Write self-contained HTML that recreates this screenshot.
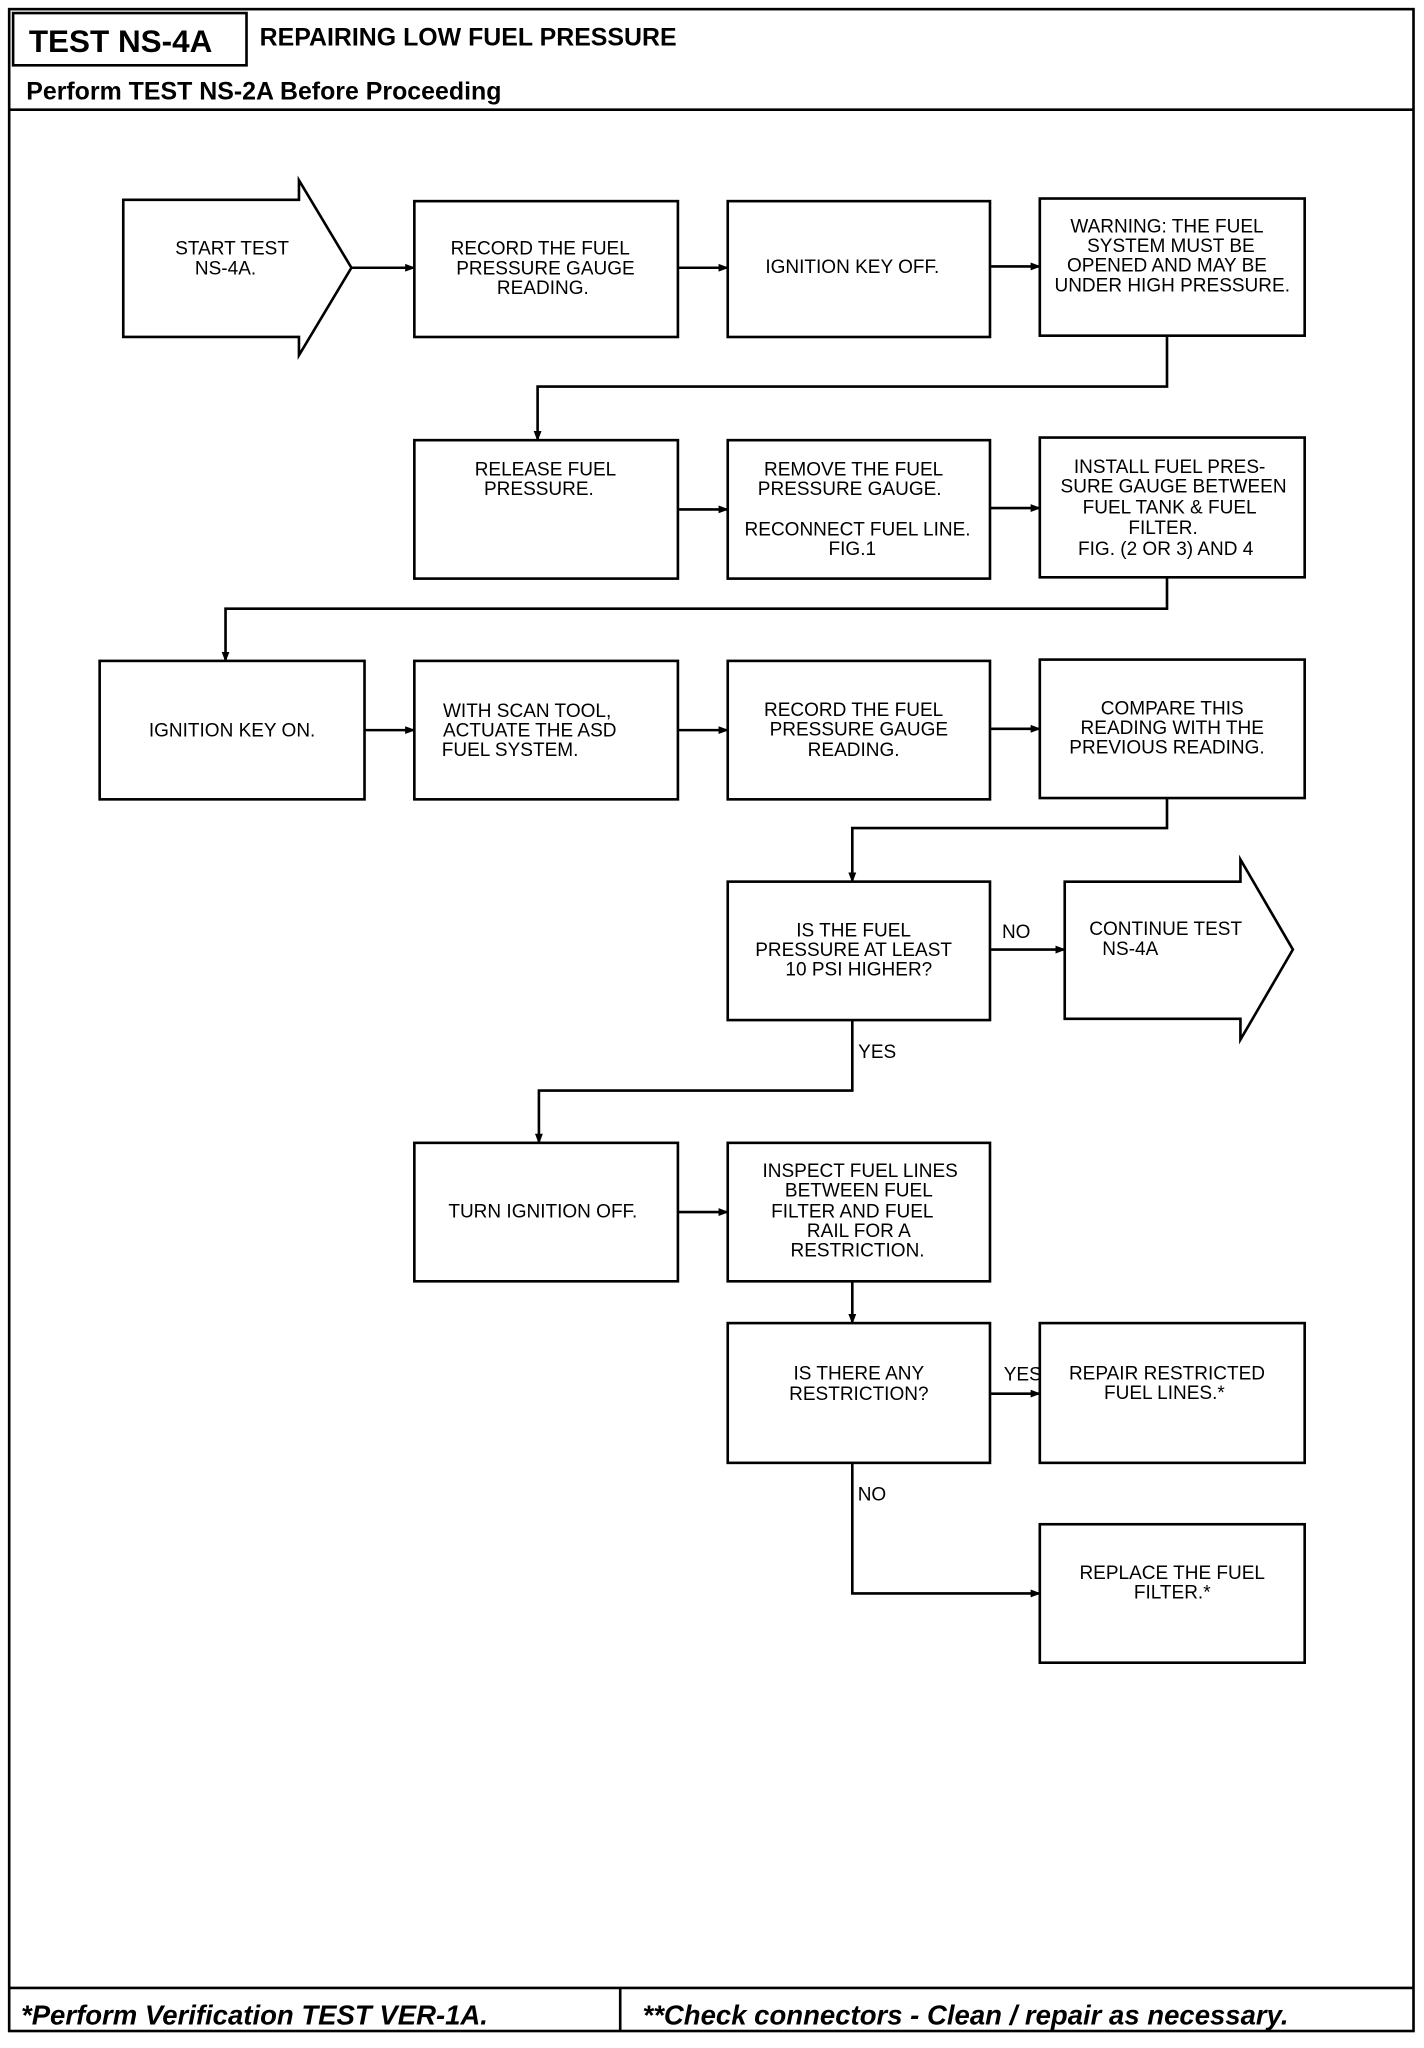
<!DOCTYPE html>
<html><head><meta charset="utf-8"><style>
html,body{margin:0;padding:0;background:#fff}
svg{display:block}
.t{font-family:"Liberation Sans",sans-serif;font-size:14.5px;fill:#000;text-anchor:middle}
.h{font-family:"Liberation Sans",sans-serif;font-weight:bold;fill:#000}
.f{font-family:"Liberation Sans",sans-serif;font-weight:bold;font-style:italic;font-size:21px;fill:#000}
rect,polygon{fill:none;stroke:#000;stroke-width:2}
.c{fill:none;stroke:#000;stroke-width:2}
</style></head><body>
<svg width="1424" height="2048" viewBox="0 0 1086 1568" preserveAspectRatio="none">
<defs><marker id="a" markerWidth="8" markerHeight="8" refX="7" refY="4" orient="auto" markerUnits="userSpaceOnUse"><path d="M0,1 L8,4 L0,7 z" fill="#000"/></marker></defs>
<rect x="7" y="7" width="1071" height="1548" stroke-width="2.5"/>
<line x1="7" y1="84" x2="1078" y2="84" class="c" stroke-width="2.5"/>
<rect x="10" y="10" width="178" height="40"/>
<text x="22" y="40" class="h" font-size="24">TEST NS-4A</text>
<text x="198" y="35" class="h" font-size="19">REPAIRING LOW FUEL PRESSURE</text>
<text x="20" y="76" class="h" font-size="19">Perform TEST NS-2A Before Proceeding</text>
<line x1="7" y1="1522" x2="1078" y2="1522" class="c" stroke-width="2.5"/>
<line x1="473" y1="1522" x2="473" y2="1555" class="c" stroke-width="2"/>
<text x="16" y="1550" class="f">*Perform Verification TEST VER-1A.</text>
<text x="490" y="1550" class="f">**Check connectors - Clean / repair as necessary.</text>

<polygon points="94,153 228,153 228,138 268,205 228,272 228,258 94,258"/>
<text class="t" x="177" y="195">START TEST</text><text class="t" x="172" y="210">NS-4A.</text>
<rect x="316" y="154" width="201" height="104"/>
<text class="t" x="412" y="195">RECORD THE FUEL</text><text class="t" x="416" y="210">PRESSURE GAUGE</text><text class="t" x="414" y="225">READING.</text>
<rect x="555" y="154" width="200" height="104"/>
<text class="t" x="650" y="209">IGNITION KEY OFF.</text>
<rect x="793" y="152" width="202" height="105"/>
<text class="t" x="890" y="178">WARNING: THE FUEL</text><text class="t" x="893" y="193">SYSTEM MUST BE</text><text class="t" x="890" y="208">OPENED AND MAY BE</text><text class="t" x="894" y="223">UNDER HIGH PRESSURE.</text>

<rect x="316" y="337" width="201" height="106"/>
<text class="t" x="416" y="364">RELEASE FUEL</text><text class="t" x="411" y="379">PRESSURE.</text>
<rect x="555" y="337" width="200" height="106"/>
<text class="t" x="651" y="364">REMOVE THE FUEL</text><text class="t" x="648" y="379">PRESSURE GAUGE.</text><text class="t" x="654" y="410">RECONNECT FUEL LINE.</text><text class="t" x="650" y="425">FIG.1</text>
<rect x="793" y="335" width="202" height="107"/>
<text class="t" x="892" y="362">INSTALL FUEL PRES-</text><text class="t" x="895" y="377">SURE GAUGE BETWEEN</text><text class="t" x="892" y="393">FUEL TANK &amp; FUEL</text><text class="t" x="887" y="409">FILTER.</text><text class="t" x="889" y="425">FIG. (2 OR 3) AND 4</text>

<rect x="76" y="506" width="202" height="106"/>
<text class="t" x="177" y="564">IGNITION KEY ON.</text>
<rect x="316" y="506" width="201" height="106"/>
<text class="t" x="402" y="549">WITH SCAN TOOL,</text><text class="t" x="404" y="564">ACTUATE THE ASD</text><text class="t" x="389" y="579">FUEL SYSTEM.</text>
<rect x="555" y="506" width="200" height="106"/>
<text class="t" x="651" y="548">RECORD THE FUEL</text><text class="t" x="655" y="563">PRESSURE GAUGE</text><text class="t" x="651" y="579">READING.</text>
<rect x="793" y="505" width="202" height="106"/>
<text class="t" x="894" y="547">COMPARE THIS</text><text class="t" x="894" y="562">READING WITH THE</text><text class="t" x="890" y="577">PREVIOUS READING.</text>

<rect x="555" y="675" width="200" height="106"/>
<text class="t" x="651" y="717">IS THE FUEL</text><text class="t" x="651" y="732">PRESSURE AT LEAST</text><text class="t" x="655" y="747">10 PSI HIGHER?</text>
<polygon points="812,675 946,675 946,658 986,727 946,796 946,780 812,780"/>
<text class="t" x="889" y="716">CONTINUE TEST</text><text class="t" x="862" y="731">NS-4A</text>

<rect x="316" y="875" width="201" height="106"/>
<text class="t" x="414" y="932">TURN IGNITION OFF.</text>
<rect x="555" y="875" width="200" height="106"/>
<text class="t" x="656" y="901">INSPECT FUEL LINES</text><text class="t" x="655" y="916">BETWEEN FUEL</text><text class="t" x="650" y="932">FILTER AND FUEL</text><text class="t" x="655" y="947">RAIL FOR A</text><text class="t" x="654" y="962">RESTRICTION.</text>

<rect x="555" y="1013" width="200" height="107"/>
<text class="t" x="655" y="1056">IS THERE ANY</text><text class="t" x="655" y="1072">RESTRICTION?</text>
<rect x="793" y="1013" width="202" height="107"/>
<text class="t" x="890" y="1056">REPAIR RESTRICTED</text><text class="t" x="888" y="1071">FUEL LINES.*</text>
<rect x="793" y="1167" width="202" height="106"/>
<text class="t" x="894" y="1209">REPLACE THE FUEL</text><text class="t" x="894" y="1224">FILTER.*</text>

<path class="c" marker-end="url(#a)" d="M268,205 H316"/>
<path class="c" marker-end="url(#a)" d="M517,205 H555"/>
<path class="c" marker-end="url(#a)" d="M755,204 H793"/>
<path class="c" marker-end="url(#a)" d="M890,257 V296 H410 V337"/>
<path class="c" marker-end="url(#a)" d="M517,390 H555"/>
<path class="c" marker-end="url(#a)" d="M755,389 H793"/>
<path class="c" marker-end="url(#a)" d="M890,442 V466 H172 V506"/>
<path class="c" marker-end="url(#a)" d="M278,559 H316"/>
<path class="c" marker-end="url(#a)" d="M517,559 H555"/>
<path class="c" marker-end="url(#a)" d="M755,558 H793"/>
<path class="c" marker-end="url(#a)" d="M890,611 V634 H650 V675"/>
<path class="c" marker-end="url(#a)" d="M755,727 H812"/>
<text class="t" x="775" y="718">NO</text>
<path class="c" marker-end="url(#a)" d="M650,781 V835 H411 V875"/>
<text class="t" x="669" y="810">YES</text>
<path class="c" marker-end="url(#a)" d="M517,928 H555"/>
<path class="c" marker-end="url(#a)" d="M650,981 V1013"/>
<path class="c" marker-end="url(#a)" d="M755,1067 H793"/>
<text class="t" x="780" y="1057">YES</text>
<path class="c" marker-end="url(#a)" d="M650,1120 V1220 H793"/>
<text class="t" x="665" y="1149">NO</text>
</svg>
</body></html>
